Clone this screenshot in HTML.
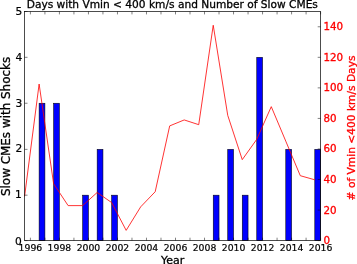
<!DOCTYPE html><html><head><meta charset="utf-8"><title>Chart</title><style>html,body{margin:0;padding:0;background:#fff}svg{display:block}text{font-family:"DejaVu Sans","Liberation Sans",sans-serif;stroke:#000;stroke-width:.3px}text.r{fill:#f00;stroke:#f00}text.t{stroke-width:.2px}text.r.t{stroke-width:.3px}</style></head><body>
<svg width="357" height="264" viewBox="0 0 357 264">
<rect width="357" height="264" fill="#fff"/>
<rect x="39.11" y="103.24" width="5.80" height="137.36" fill="#0000ff" stroke="#000" stroke-width="0.55"/>
<rect x="53.62" y="103.24" width="5.80" height="137.36" fill="#0000ff" stroke="#000" stroke-width="0.55"/>
<rect x="82.64" y="195.18" width="5.80" height="45.42" fill="#0000ff" stroke="#000" stroke-width="0.55"/>
<rect x="97.15" y="149.36" width="5.80" height="91.24" fill="#0000ff" stroke="#000" stroke-width="0.55"/>
<rect x="111.66" y="195.18" width="5.80" height="45.42" fill="#0000ff" stroke="#000" stroke-width="0.55"/>
<rect x="213.23" y="195.18" width="5.80" height="45.42" fill="#0000ff" stroke="#000" stroke-width="0.55"/>
<rect x="227.74" y="149.36" width="5.80" height="91.24" fill="#0000ff" stroke="#000" stroke-width="0.55"/>
<rect x="242.25" y="195.18" width="5.80" height="45.42" fill="#0000ff" stroke="#000" stroke-width="0.55"/>
<rect x="256.76" y="57.32" width="5.80" height="183.28" fill="#0000ff" stroke="#000" stroke-width="0.55"/>
<rect x="285.78" y="149.36" width="5.80" height="91.24" fill="#0000ff" stroke="#000" stroke-width="0.55"/>
<rect x="314.80" y="149.36" width="5.80" height="91.24" fill="#0000ff" stroke="#000" stroke-width="0.55"/>
<polyline points="24.60,196.31 39.11,84.05 53.62,183.78 68.13,205.62 82.64,205.62 97.15,192.49 111.66,202.57 126.17,230.37 140.68,206.85 155.19,191.73 169.70,125.90 184.21,119.94 198.72,124.68 213.23,25.25 227.74,115.36 242.25,159.65 256.76,139.34 271.27,106.65 285.78,141.17 300.29,175.69 314.80,179.81" fill="none" stroke="#ff0000" stroke-width="0.8" stroke-linejoin="miter"/>
<path d="M30.40 240.6v-2.9M30.40 11.5v2.9M44.91 240.6v-2.9M44.91 11.5v2.9M59.42 240.6v-2.9M59.42 11.5v2.9M73.93 240.6v-2.9M73.93 11.5v2.9M88.44 240.6v-2.9M88.44 11.5v2.9M102.95 240.6v-2.9M102.95 11.5v2.9M117.46 240.6v-2.9M117.46 11.5v2.9M131.97 240.6v-2.9M131.97 11.5v2.9M146.48 240.6v-2.9M146.48 11.5v2.9M160.99 240.6v-2.9M160.99 11.5v2.9M175.50 240.6v-2.9M175.50 11.5v2.9M190.01 240.6v-2.9M190.01 11.5v2.9M204.52 240.6v-2.9M204.52 11.5v2.9M219.03 240.6v-2.9M219.03 11.5v2.9M233.54 240.6v-2.9M233.54 11.5v2.9M248.05 240.6v-2.9M248.05 11.5v2.9M262.56 240.6v-2.9M262.56 11.5v2.9M277.07 240.6v-2.9M277.07 11.5v2.9M291.58 240.6v-2.9M291.58 11.5v2.9M306.09 240.6v-2.9M306.09 11.5v2.9M320.60 240.6v-2.9M320.60 11.5v2.9M24.6 240.60h2.9M24.6 195.18h2.9M24.6 149.36h2.9M24.6 103.24h2.9M24.6 57.32h2.9M24.6 11.50h2.9M320.6 240.60h-2.9M320.6 210.05h-2.9M320.6 179.51h-2.9M320.6 148.96h-2.9M320.6 118.41h-2.9M320.6 87.87h-2.9M320.6 57.32h-2.9M320.6 26.77h-2.9" stroke="#000" stroke-width="0.5" fill="none"/>
<rect x="24.6" y="11.5" width="296.00" height="229.10" fill="none" stroke="#000" stroke-width="0.7"/>
<text x="172.30" y="8.4" font-size="10.61" text-anchor="middle">Days with Vmin &lt; 400 km/s and Number of Slow CMEs</text>
<text x="30.40" y="251.1" font-size="9.27" class="t" text-anchor="middle">1996</text>
<text x="59.42" y="251.1" font-size="9.27" class="t" text-anchor="middle">1998</text>
<text x="88.44" y="251.1" font-size="9.27" class="t" text-anchor="middle">2000</text>
<text x="117.46" y="251.1" font-size="9.27" class="t" text-anchor="middle">2002</text>
<text x="146.48" y="251.1" font-size="9.27" class="t" text-anchor="middle">2004</text>
<text x="175.50" y="251.1" font-size="9.27" class="t" text-anchor="middle">2006</text>
<text x="204.52" y="251.1" font-size="9.27" class="t" text-anchor="middle">2008</text>
<text x="233.54" y="251.1" font-size="9.27" class="t" text-anchor="middle">2010</text>
<text x="262.56" y="251.1" font-size="9.27" class="t" text-anchor="middle">2012</text>
<text x="291.58" y="251.1" font-size="9.27" class="t" text-anchor="middle">2014</text>
<text x="320.60" y="251.1" font-size="9.27" class="t" text-anchor="middle">2016</text>
<text x="21.70" y="244.50" font-size="10.65" text-anchor="end" class="t">0</text>
<text x="21.70" y="197.83" font-size="10.65" text-anchor="end" class="t">1</text>
<text x="22.30" y="152.36" font-size="10.65" text-anchor="end" class="t">2</text>
<text x="22.30" y="107.04" font-size="10.65" text-anchor="end" class="t">3</text>
<text x="22.30" y="61.22" font-size="10.65" text-anchor="end" class="t">4</text>
<text x="22.30" y="15.40" font-size="10.65" text-anchor="end" class="t">5</text>
<text x="323.4" y="244.10" font-size="10.3" class="r t">0</text>
<text x="323.4" y="213.55" font-size="10.3" class="r t">20</text>
<text x="323.4" y="183.01" font-size="10.3" class="r t">40</text>
<text x="323.4" y="152.46" font-size="10.3" class="r t">60</text>
<text x="323.4" y="121.91" font-size="10.3" class="r t">80</text>
<text x="323.4" y="91.37" font-size="10.3" class="r t">100</text>
<text x="323.4" y="60.82" font-size="10.3" class="r t">120</text>
<text x="323.4" y="30.27" font-size="10.3" class="r t">140</text>
<text x="172.60" y="264.25" font-size="11.0" text-anchor="middle">Year</text>
<text transform="translate(9.6 126.45) rotate(-90)" font-size="11.95" text-anchor="middle">Slow CMEs with Shocks</text>
<text transform="translate(354.8 127.95) rotate(-90)" font-size="10.65" text-anchor="middle" class="r"># of Vmin &lt;400 km/s Days</text>
</svg></body></html>
